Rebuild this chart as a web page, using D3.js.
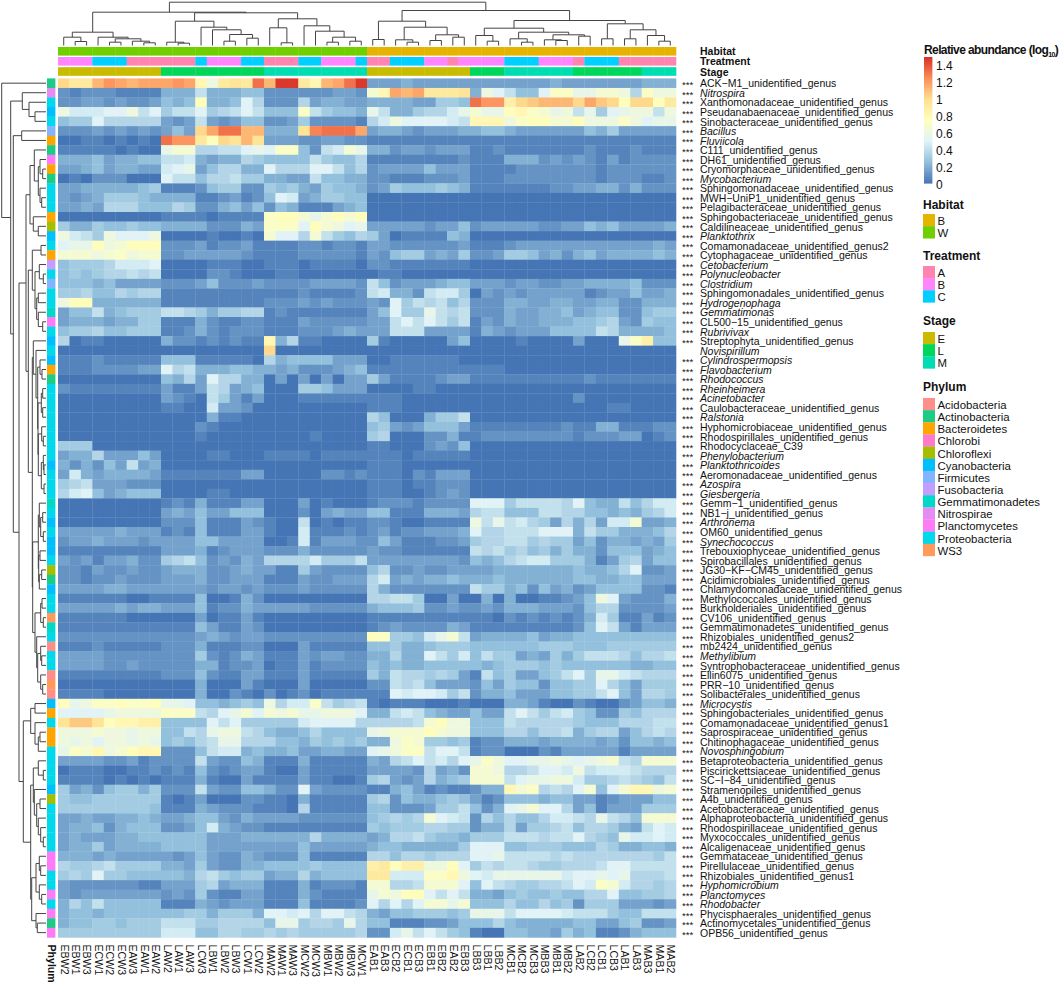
<!DOCTYPE html>
<html><head><meta charset="utf-8">
<script src="https://cdn.jsdelivr.net/npm/d3@7/dist/d3.min.js"></script>
<style>body{margin:0;background:#fff}text{font-family:"Liberation Sans",Arial,sans-serif;fill:#111}</style>
</head><body><svg id="c" width="1059" height="983"></svg>
<script>
const columnNames=["EBW2","EBW1","EBW3","ECW1","ECW2","ECW3","EAW3","EAW1","EAW2","LAW2","LAW1","LAW3","LCW3","LBW1","LBW2","LBW3","LCW1","LCW2","MAW2","MAW1","MAW3","MCW2","MCW3","MBW1","MBW2","MBW3","MCW1","EAB1","EAB3","ECB2","ECB1","ECB3","EBB1","EBB2","EAB2","EBB3","LBB3","LBB1","LBB2","MCB1","MCB2","MCB3","MBB3","MBB1","MBB2","LAB2","LCB2","LCB1","LCB3","LAB1","LAB3","MAB3","MAB1","MAB2"];
const U="_unidentified_genus";
const rowNames=["ACK−M1"+U,"Nitrospira","Xanthomonadaceae"+U,"Pseudanabaenaceae"+U,"Sinobacteraceae"+U,"Bacillus","Fluviicola","C111"+U,"DH61"+U,"Cryomorphaceae"+U,"Mycobacterium","Sphingomonadaceae"+U,"MWH−UniP1"+U,"Pelagibacteraceae"+U,"Sphingobacteriaceae"+U,"Caldilineaceae"+U,"Planktothrix","Comamonadaceae"+U+"2","Cytophagaceae"+U,"Cetobacterium","Polynucleobacter","Clostridium","Sphingomonadales"+U,"Hydrogenophaga","Gemmatimonas","CL500−15"+U,"Rubrivivax","Streptophyta"+U,"Novispirillum","Cylindrospermopsis","Flavobacterium","Rhodococcus","Rheinheimera","Acinetobacter","Caulobacteraceae"+U,"Ralstonia","Hyphomicrobiaceae"+U,"Rhodospirillales"+U,"Rhodocyclaceae_C39","Phenylobacterium","Planktothricoides","Aeromonadaceae"+U,"Azospira","Giesbergeria","Gemm−1"+U,"NB1−j"+U,"Arthronema","OM60"+U,"Synechococcus","Trebouxiophyceae"+U,"Spirobacillales"+U,"JG30−KF−CM45"+U,"Acidimicrobiales"+U,"Chlamydomonadaceae"+U,"Methylococcales"+U,"Burkholderiales"+U,"CV106"+U,"Gemmatimonadetes"+U,"Rhizobiales"+U+"2","mb2424"+U,"Methylibium","Syntrophobacteraceae"+U,"Ellin6075"+U,"PRR−10"+U,"Solibacterales"+U,"Microcystis","Sphingobacteriales"+U,"Comamonadaceae"+U+"1","Saprospiraceae"+U,"Chitinophagaceae"+U,"Novosphingobium","Betaproteobacteria"+U,"Piscirickettsiaceae"+U,"SC−I−84"+U,"Stramenopiles"+U,"A4b"+U,"Acetobacteraceae"+U,"Alphaproteobacteria"+U,"Rhodospirillaceae"+U,"Myxococcales"+U,"Alcaligenaceae"+U,"Gemmataceae"+U,"Pirellulaceae"+U,"Rhizobiales"+U+"1","Hyphomicrobium","Planctomyces","Rhodobacter","Phycisphaerales"+U,"Actinomycetales"+U,"OPB56"+U];
const phyla=["Acidobacteria","Actinobacteria","Bacteroidetes","Chlorobi","Chloroflexi","Cyanobacteria","Firmicutes","Fusobacteria","Gemmatimonadetes","Nitrospirae","Planctomycetes","Proteobacteria","WS3"];
const phylaColors=["#FF8E8A","#1CCB86","#FFA500","#FF7BC9","#A6BE00","#00BFFF","#82B4FF","#C39DFF","#00D9C8","#E58BF2","#FF7BF5","#00D8EC","#FF9A5A"];
const rowPhylum=[1,9,11,5,11,6,2,1,10,2,1,11,11,11,2,4,5,11,2,7,11,6,11,11,8,10,11,5,11,5,2,1,11,11,11,11,11,11,11,11,5,11,11,11,8,11,5,11,5,5,11,4,1,5,11,11,12,8,11,0,11,11,0,12,0,5,2,11,2,2,11,11,11,11,5,4,11,11,11,11,11,10,10,11,11,10,11,10,1,10];
// one character per cell, base-36, in steps of 0.05 log10 units; groups of three columns
const abundanceRows=[
"kii mon mnn non gci jiq mtt igm nqt 333 433 333 333 333 343 333 333 444",
"212 221 111 444 844 455 222 222 332 dgn mni iij 4ca 855 aee bbd dc7 ecc",
"223 323 223 545 f44 5a7 222 734 433 444 433 665 qoo hkl mmm knl kfk kfi",
"c99 9aa c8a 688 a67 8a8 555 e86 554 b84 467 79b dbb fge dbc 8b6 abc c8c",
"566 a77 777 323 832 355 223 622 221 79c aaa a98 ggg cef fdd fcc cec abb",
"222 323 232 353 knq qmm 444 jpq qqn 344 323 334 455 433 333 354 633 333",
"001 101 010 qoo ifk jmj 333 223 322 111 111 111 111 111 111 111 111 111",
"111 110 100 bdd 778 8ab aee 528 9db 442 332 333 112 111 111 121 112 111",
"444 534 455 889 434 476 555 586 557 111 111 112 111 444 232 321 312 222",
"334 534 433 9ab 357 744 a77 7aa 857 233 335 333 111 122 222 221 222 222",
"010 222 000 a88 577 866 443 385 544 221 112 223 111 222 222 221 222 112",
"334 444 456 111 256 622 656 436 554 236 555 654 111 111 122 334 424 222",
"323 466 654 444 112 312 5a9 346 655 000 000 000 000 000 000 000 000 000",
"334 377 755 576 224 535 254 111 345 000 000 000 000 000 000 000 000 000",
"000 000 000 111 101 111 eff dbd fdf 000 000 000 000 000 000 000 000 000",
"644 655 655 444 422 243 eee afd cab 333 332 335 233 333 223 354 533 334",
"c98 6ca aac 000 010 010 daa 7d8 657 630 111 154 000 000 000 000 000 000",
"abb fcd fff 222 312 231 111 221 221 332 222 223 111 233 333 333 333 343",
"ddd cde cdd 223 333 321 111 222 221 325 663 436 223 665 342 453 444 454",
"566 679 99a 000 011 100 111 011 110 221 111 111 000 000 000 000 000 000",
"565 677 878 000 022 100 011 000 000 011 000 000 000 000 000 000 000 000",
"555 453 333 222 352 223 222 233 332 852 333 455 333 233 223 344 445 222",
"667 557 677 111 111 111 111 211 112 894 428 996 032 323 333 312 335 334",
"cff 444 444 111 111 111 222 323 222 32a 687 857 222 443 344 334 422 444",
"355 845 666 887 646 677 121 111 111 35a 66b 878 222 433 445 345 522 566",
"344 434 466 111 421 122 111 322 222 338 a8a 868 132 433 444 556 732 655",
"566 755 666 112 421 222 111 222 343 338 883 333 143 233 355 558 744 445",
"701 100 000 422 121 211 g47 110 000 610 000 035 000 010 000 300 0be h55",
"000 000 000 000 000 000 k00 000 000 000 000 000 000 000 000 000 000 000",
"111 211 111 555 111 110 745 555 333 001 111 110 000 000 000 000 000 000",
"111 222 233 a78 444 554 434 222 345 111 111 111 111 000 000 000 000 000",
"000 000 000 547 3a7 744 030 303 033 631 111 233 111 111 111 121 111 111",
"211 111 111 311 387 345 000 665 333 000 011 000 000 000 000 000 000 000",
"000 000 000 321 086 313 000 111 111 111 000 000 000 000 000 200 000 000",
"000 000 000 110 093 320 000 000 000 111 000 000 000 000 000 000 110 000",
"000 000 000 000 041 100 000 000 000 750 004 668 000 000 000 000 000 000",
"000 000 000 000 210 000 000 000 000 563 235 553 111 111 112 114 411 122",
"000 000 000 000 100 000 000 010 000 670 002 241 122 222 222 122 233 012",
"666 000 000 000 000 000 000 000 000 110 002 325 000 000 000 000 000 000",
"344 733 353 000 011 000 111 101 111 111 011 111 000 000 000 000 000 000",
"424 253 834 000 000 000 000 000 000 111 000 000 000 000 000 000 000 000",
"394 344 443 111 111 133 000 002 212 111 021 333 000 000 000 000 000 000",
"678 333 222 000 000 000 000 000 000 111 011 222 000 000 000 000 000 000",
"79a 534 555 000 011 000 000 000 000 111 001 232 000 000 000 000 000 000",
"000 000 000 121 411 133 000 301 000 122 212 222 aaa 688 887 a54 485 799",
"000 000 000 343 533 555 000 203 433 551 114 443 788 555 887 755 454 679",
"000 000 000 222 511 132 100 801 011 221 001 111 c8b 897 637 473 99d 334",
"333 334 333 121 511 133 100 911 121 231 223 334 a77 888 aaa 486 644 457",
"233 433 323 333 553 333 001 913 332 253 111 223 677 886 766 352 443 436",
"111 111 111 333 412 333 222 422 222 322 111 111 878 675 646 442 555 345",
"323 133 422 678 523 243 777 796 668 333 333 332 545 789 966 641 367 355",
"221 322 322 344 422 343 311 632 222 572 232 233 334 444 444 544 57a 223",
"221 223 222 333 422 333 111 322 333 793 434 454 445 444 444 554 455 333",
"333 344 333 333 323 323 222 322 222 742 222 222 866 452 534 235 555 221",
"111 111 001 111 500 142 000 000 000 778 860 030 040 400 112 35c a32 224",
"333 334 344 333 512 243 333 322 222 455 562 232 232 444 333 257 722 223",
"111 111 000 000 301 131 000 000 000 111 111 111 110 212 121 249 611 312",
"111 111 111 111 531 132 000 000 000 123 222 243 111 111 111 25a 831 333",
"222 222 222 222 343 233 222 222 222 fe6 659 bd8 344 445 344 555 555 555",
"111 211 111 222 411 122 000 311 111 556 445 666 555 555 666 555 666 666",
"333 322 222 222 621 243 111 323 322 447 44a 869 586 634 364 688 875 778",
"333 322 322 222 441 223 011 312 222 545 445 555 545 666 565 555 554 455",
"111 111 111 222 521 133 111 311 111 648 776 763 185 633 568 a6b b98 777",
"000 000 000 000 400 031 000 300 000 228 785 333 253 655 255 66a 753 666",
"111 100 000 000 400 210 201 201 111 11a 9aa 968 244 533 355 668 a53 776",
"fbc eef eef bba 554 565 c79 9e8 678 101 110 001 000 443 100 210 023 554",
"aaa abc ccc eee 87a bda dcd bbc cca 448 985 433 533 8a8 689 652 265 777",
"jll jfg ghh 555 5a8 a66 666 9aa aa7 777 78d fcc 555 877 777 655 577 788",
"ccc dcc bcc 558 7bc c87 544 575 555 bcd ddf dcc 555 775 778 467 735 787",
"cbc acc bcb 565 78b b77 755 465 656 44c ed6 656 122 444 344 443 425 545",
"bed gcd fgg 222 589 945 445 334 433 abc ee8 aa8 122 000 213 333 313 333",
"333 322 312 222 832 254 111 411 111 437 8a8 97a bec aab bcb abc d87 ddd",
"011 100 112 121 521 233 100 311 111 333 327 342 ddc 778 aa9 c89 998 777",
"111 101 010 111 410 031 111 311 001 673 237 456 ddd 8ab bcc 966 787 658",
"634 256 646 222 832 255 422 a32 222 114 531 211 244 gde 787 ad5 adg gcd",
"655 666 666 101 300 022 110 411 111 672 544 565 312 555 455 331 233 355",
"666 666 665 111 432 221 110 711 111 552 223 668 524 abd aa7 351 333 666",
"334 334 454 334 553 243 333 222 222 567 67d a98 275 755 799 87b 875 ddd",
"344 524 555 223 594 322 111 111 111 656 667 766 244 736 678 577 643 8a9",
"343 334 455 555 533 344 444 474 444 347 786 554 666 888 788 a76 5b9 9a9",
"344 634 444 555 533 333 333 533 333 455 444 446 aaa 556 665 557 644 554",
"444 343 333 323 532 243 222 511 111 775 776 777 aab 888 878 777 777 768",
"766 786 666 443 632 244 555 565 555 hif hhc cfa 687 887 667 778 aa8 888",
"676 a66 555 554 786 566 344 745 555 ii9 99e egc a9b bbb bb9 aab ab7 778",
"322 222 211 333 673 444 111 412 221 dd7 78d dda 5a8 766 778 a9e d97 767",
"323 333 333 232 621 133 111 421 111 bdc ffa 8a8 443 565 565 577 a55 667",
"475 855 555 111 432 333 111 511 112 a7a 7ad dbd 555 755 756 266 633 323",
"455 455 555 556 646 664 aa9 a7a a87 435 566 656 bbb 8aa aa9 888 655 888",
"455 665 666 888 667 777 5bb 677 6b7 551 112 235 557 544 444 553 356 223",
"666 666 666 999 557 766 767 666 667 229 b8a 865 100 554 436 451 124 555"];
const italicRows=new Set(["Nitrospira","Bacillus","Fluviicola","Mycobacterium","Planktothrix","Cetobacterium","Polynucleobacter","Clostridium","Hydrogenophaga","Gemmatimonas","Rubrivivax","Novispirillum","Cylindrospermopsis","Flavobacterium","Rhodococcus","Rheinheimera","Acinetobacter","Ralstonia","Phenylobacterium","Planktothricoides","Azospira","Giesbergeria","Arthronema","Synechococcus","Methylibium","Microcystis","Novosphingobium","Hyphomicrobium","Planctomyces","Rhodobacter"]);
const noStars=new Set(["Novispirillum"]);
const legendTicks=[0,0.2,0.4,0.6,0.8,1,1.2,1.4];
const habitats=["B","W"],habitatColors=["#E5B400","#6FCF00"];
const treatments=["A","B","C"],treatmentColors=["#FF85B0","#FF85FF","#00CFFF"];
const stages=["E","L","M"],stageColors=["#C8BB00","#00D65A","#00DDB0"];
const colorStops=[0,.245,.49,.735,.98,1.225,1.47];
const colorRange=["#4575B4","#91BFDB","#E0F3F8","#FFFFBF","#FEE090","#FC8D59","#D73027"];
const _=0;
// merge heights of the two clusterings; 0 marks a leaf, leaves run in display order
const colTree=[43.3,[33.3,[13.3,[8.3,_,[4,_,_]],[8.3,_,[6.7,[3.3,_,_],[4.3,_,[2.7,_,_]]]]],[32.7,[24.3,[3.3,_,[2.3,_,_]],[18.3,_,[15.7,_,[11,[4.3,_,_],[7.3,_,_]]]]],[26.7,[17.7,_,[2.7,_,_]],[19.7,_,[14.3,_,[8.3,[3.3,_,_],[4.3,_,_]]]]]]],[35,[24.3,[6,_,_],[18.3,[5.7,_,[3.3,_,_]],[10.7,[5,_,_],[8.3,_,_]]]],[25,[17.3,[10,_,[4.3,_,_]],[13.3,[6.7,_,[3.3,_,_]],[10.7,[5.7,_,[5,_,_]],[9.3,_,_]]]],[21.7,[6.7,_,_],[15.7,[6.7,_,_],[10,_,[4.3,_,_]]]]]]];
const rowTree=[44.3,_,[35.3,[23.7,_,[17,_,[11,_,_]]],[32.7,[24.3,_,_],[27,[20,[16,[11.7,_,[7.7,[6,_,[3.3,_,_]],[6,_,[4.3,_,_]]]],[12.7,_,[7.7,_,_]]],[17.7,[13.7,[5,_,_],[11,[6.7,_,[2.7,_,_]],[9.3,[7.7,_,_],[7.7,_,[3.3,_,_]]]]],[13.7,[12.7,_,[10,_,[8.3,[6,_,[4,_,_]],[8,[4.7,[3.3,_,_],[3.3,_,_]],[7.7,[4.3,_,[2.7,_,_]],[4.7,[2.7,_,[2,_,_]],[2,_,_]]]]]]],[13.3,[7.7,[6.7,_,[5.3,[3.3,_,_],[2.7,_,_]]],[7.3,[6,_,_],[6.7,[4.3,_,_],_]]],[11,[5.3,[4,_,_],[2.7,_,_]],[9.3,_,[8.3,[5.3,_,[4.3,_,_]],[5.3,_,[3.3,_,_]]]]]]]]],[22.7,[15.3,[11,_,_],[11,_,[7.7,[6,_,_],_]]],[15.3,[12.7,[7.7,_,[2.7,_,_]],[11.7,_,[9.3,[6,_,_],[7.7,_,[5.3,_,[2.7,_,_]]]]]],[14.3,[10,[6.7,_,[5.3,_,_]],[6.7,_,[4.3,_,_]]],[10,_,[8.7,_,_]]]]]]]]];

const svg=d3.select("#c");
const x=d3.scaleBand().domain(columnNames).range([58,676]);
const y=d3.scaleBand().domain(rowNames).range([78.4,937.4]);
const color=d3.scaleLinear().domain(colorStops).range(colorRange);
const values=abundanceRows.map(r=>r.replace(/ /g,"").split("").map(c=>parseInt(c,36)*0.05));

// heatmap cells
const heat=svg.append("g");
values.forEach((row,i)=>row.forEach((v,j)=>{
  heat.append("rect").attr("x",x(columnNames[j])).attr("y",y(rowNames[i]))
    .attr("width",x.bandwidth()+.3).attr("height",y.bandwidth()+.3).attr("fill",color(v));
}));

// column annotation tracks
const tracks=[
 {name:"Habitat",y:47,pick:n=>n[2],scale:d3.scaleOrdinal(habitats,habitatColors)},
 {name:"Treatment",y:57,pick:n=>n[1],scale:d3.scaleOrdinal(treatments,treatmentColors)},
 {name:"Stage",y:67.2,pick:n=>n[0],scale:d3.scaleOrdinal(stages,stageColors)}];
tracks.forEach(t=>{
  svg.append("g").selectAll("rect").data(columnNames).join("rect")
    .attr("x",d=>x(d)).attr("y",t.y).attr("width",x.bandwidth()+.3).attr("height",8.6)
    .attr("fill",d=>t.scale(t.pick(d)));
  svg.append("text").attr("x",700).attr("y",t.y+8.4).attr("font-size",10.5).attr("font-weight","bold").text(t.name);
});

// phylum annotation
svg.append("g").selectAll("rect").data(rowNames).join("rect")
  .attr("x",47).attr("y",d=>y(d)).attr("width",8.4).attr("height",y.bandwidth()+.3)
  .attr("fill",(d,i)=>phylaColors[rowPhylum[i]]);

// row labels and stars
svg.append("g").selectAll("text").data(rowNames).join("text")
  .attr("x",700).attr("y",d=>y(d)+y.bandwidth()/2+4.2).attr("font-size",10.5)
  .attr("font-style",d=>italicRows.has(d)?"italic":"normal").text(d=>d);
svg.append("g").selectAll("text").data(rowNames.filter(d=>!noStars.has(d))).join("text")
  .attr("x",682).attr("y",d=>y(d)+y.bandwidth()/2+5).attr("font-size",9.6).text("***");

// column labels
svg.append("g").selectAll("text").data(columnNames).join("text")
  .attr("transform",d=>`translate(${x(d)+x.bandwidth()/2-3.2},944.5) rotate(90)`)
  .attr("font-size",10.6).text(d=>d);
svg.append("text").attr("transform","translate(47.5,944.5) rotate(90)")
  .attr("font-size",10.6).attr("font-weight","bold").text("Phylum");

// dendrograms
function drawTree(tree,pos,h,vertical){
  const root=d3.hierarchy(tree,d=>d===0?null:[d[1],d[2]]);
  let k=0;
  root.eachAfter(n=>{
    if(!n.children){n.p=pos(k++);n.h=0;}
    else{n.p=(n.children[0].p+n.children[1].p)/2;n.h=n.data[0];}
  });
  const path=d3.path();
  root.each(n=>{
    if(!n.children)return;
    const [a,b]=n.children;
    if(vertical){
      path.moveTo(a.p,h(a.h));path.lineTo(a.p,h(n.h));path.lineTo(b.p,h(n.h));path.lineTo(b.p,h(b.h));
    }else{
      path.moveTo(h(a.h),a.p);path.lineTo(h(n.h),a.p);path.lineTo(h(n.h),b.p);path.lineTo(h(b.h),b.p);
    }
  });
  svg.append("path").attr("d",path.toString()).attr("fill","none").attr("stroke","#444").attr("stroke-width",1);
}
drawTree(colTree,i=>x(columnNames[i])+x.bandwidth()/2,d3.scaleLinear().domain([0,45]).range([45.5,.5]),true);
drawTree(rowTree,i=>y(rowNames[i])+y.bandwidth()/2,d3.scaleLinear().domain([0,46]).range([46,0]),false);

// colour bar
const bar=d3.scaleLinear().domain([0,1.5]).range([183.6,57]);
const grad=svg.append("defs").append("linearGradient").attr("id","g").attr("x1",0).attr("x2",0).attr("y1",1).attr("y2",0);
colorStops.forEach((s,i)=>grad.append("stop").attr("offset",s/1.47).attr("stop-color",colorRange[i]));
svg.append("rect").attr("x",924).attr("y",57).attr("width",8.4).attr("height",126.6).attr("fill","url(#g)");
svg.append("g").selectAll("text").data(legendTicks).join("text")
  .attr("x",936).attr("y",d=>bar(d)+5).attr("font-size",12).text(d=>d);
const ttl=svg.append("text").attr("x",924).attr("y",54).attr("font-size",12).attr("font-weight","bold").attr("letter-spacing",-.6);
ttl.append("tspan").text("Relative abundance (log");
ttl.append("tspan").attr("dy",2.5).attr("font-size",7).text("10");
ttl.append("tspan").attr("dy",-2.5).text(")");

// discrete legends
function legend(title,titleY,topY,labels,cols){
  svg.append("text").attr("x",923).attr("y",titleY).attr("font-size",12).attr("font-weight","bold").text(title);
  const s=d3.scaleBand().domain(labels).range([topY,topY+labels.length*12.15]);
  svg.append("g").selectAll("rect").data(labels).join("rect")
    .attr("x",923).attr("y",d=>s(d)).attr("width",12).attr("height",s.bandwidth()+.2).attr("fill",(d,i)=>cols[i]);
  svg.append("g").selectAll("text").data(labels).join("text")
    .attr("x",937.5).attr("y",d=>s(d)+s.bandwidth()/2+4.9).attr("font-size",11.4).text(d=>d);
}
legend("Habitat",208.5,214,habitats,habitatColors);
legend("Treatment",260,266,treatments,treatmentColors);
legend("Stage",325,332,stages,stageColors);
legend("Phylum",391,398,phyla,phylaColors);
</script></body></html>
